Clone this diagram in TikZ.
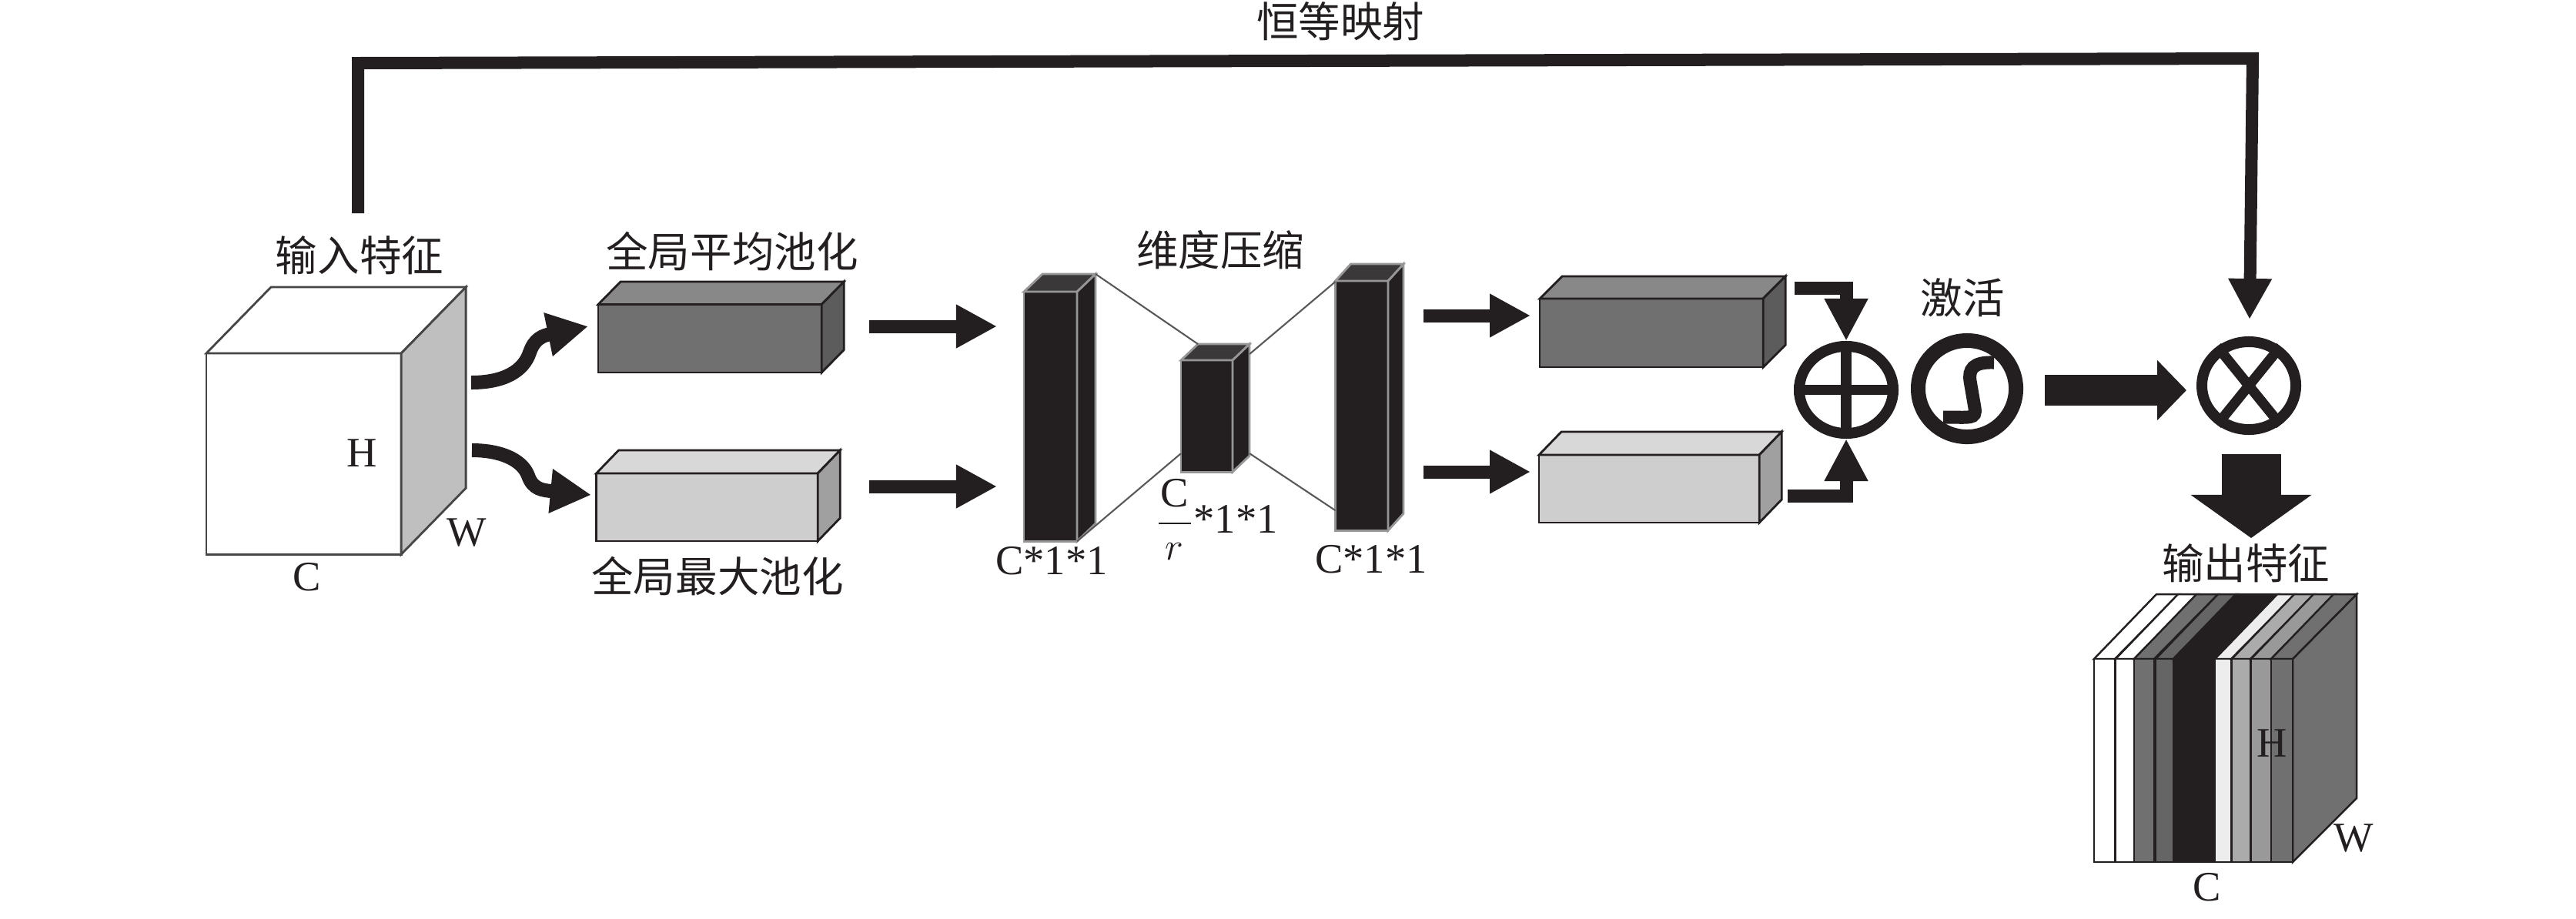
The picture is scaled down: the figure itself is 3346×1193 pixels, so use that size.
\documentclass[tikz,border=0pt]{standalone}
\usepackage{fontspec}
\setmainfont{Liberation Serif}
\newfontfamily\cjk{Noto Sans CJK SC}
\definecolor{Ink}      {RGB}{35,  31,  32}
\definecolor{InFront}  {RGB}{255, 255, 255}
\definecolor{InTop}    {RGB}{255, 255, 255}
\definecolor{InSide}   {RGB}{191, 191, 191}
\definecolor{InEdge}   {RGB}{70,  70,  70}
\definecolor{AvgFront} {RGB}{112, 112, 113}
\definecolor{AvgTop}   {RGB}{136, 136, 137}
\definecolor{AvgSide}  {RGB}{92,  92,  92}
\definecolor{AvgEdge}  {RGB}{35,  31,  32}
\definecolor{MaxFront} {RGB}{206, 206, 206}
\definecolor{MaxTop}   {RGB}{216, 216, 216}
\definecolor{MaxSide}  {RGB}{160, 160, 160}
\definecolor{MaxEdge}  {RGB}{35,  31,  32}
\definecolor{BarFront} {RGB}{35,  31,  32}
\definecolor{BarTop}   {RGB}{58,  56,  57}
\definecolor{BarSide}  {RGB}{35,  31,  32}
\definecolor{BarEdge}  {RGB}{150, 150, 150}
\usepackage{tikz}
\usetikzlibrary{shapes.geometric, arrows.meta, calc}

%% name, north west corner, width, height, depth vector, colour family
\newcommand{\cuboid}[6]{%
  \node[boxface, draw=#6Edge, fill=#6Front, minimum width=#3cm, minimum height=#4cm] (#1) at #2 {};
  \draw[boxedge, draw=#6Edge, fill=#6Top] (#1.north west) -- ++#5 -- ($(#1.north east)+#5$) -- (#1.north east) -- cycle;
  \draw[boxedge, draw=#6Edge, fill=#6Side] (#1.north east) -- ++#5 -- ($(#1.south east)+#5$) -- (#1.south east) -- cycle;
}

\begin{document}
\begin{tikzpicture}[x=0.01cm, y=-0.01cm,
  boxface/.style={rectangle, anchor=north west, line width=0.8pt, inner sep=0pt, outer sep=0pt},
  boxedge/.style={line width=0.8pt, line join=miter},
  lbl/.style={font=\fontsize{15.5}{18}\selectfont\cjk, text=Ink, inner sep=0pt},
  sym/.style={font=\fontsize{15.5}{18}\selectfont, text=Ink, inner sep=0pt},
  thinline/.style={draw=Ink!75, line width=0.6pt},
  wave/.style={draw=Ink, line width=0.18cm, -{Triangle[length=0.53cm, width=0.54cm, fill=Ink]}},
  flow/.style={draw=Ink, line width=0.17cm, -{Triangle[length=0.53cm, width=0.53cm, fill=Ink]}},
  merge/.style={draw=Ink, line width=0.17cm, -{Triangle[length=0.55cm, width=0.53cm, fill=Ink]}},
  skiparrow/.style={draw=Ink, line width=0.16cm, -{Triangle[length=0.53cm, width=0.53cm, fill=Ink]}},
  bigflow/.style={draw=Ink, line width=0.40cm, -{Triangle[length=0.38cm, width=0.76cm, fill=Ink]}},
  bigdown/.style={draw=Ink, line width=0.77cm, -{Triangle[length=0.56cm, width=1.54cm, fill=Ink]}},
  ring/.style={ellipse, draw=Ink, inner sep=0pt},
  stripe/.style={draw=Ink, line width=0.7pt}
]
  \useasboundingbox (0,0) rectangle (3346,1193);

  %% Input feature
  \cuboid{inCube}{(268,459)}{2.53}{2.61}{(84,-86)}{In}
  \node[lbl] (inLbl) at (467,332) {输入特征};
  \node[sym] (inH) at (470,589) {H};
  \node[sym] (inW) at (606,692) {W};
  \node[sym] (inC) at (399,750) {C};

  %% Pooling boxes
  \cuboid{avgA}{(777,395.5)}{2.90}{0.885}{(29,-29.5)}{Avg}
  \cuboid{maxA}{(774.5,615)}{2.875}{0.88}{(29,-30)}{Max}
  \node[lbl] (avgLbl) at (951,327) {全局平均池化};
  \node[lbl] (maxLbl) at (932,748) {全局最大池化};

  %% Curved arrows out of the input
  \coordinate (waveA) at (612,497);
  \coordinate (waveB) at (613,585);
  \coordinate (avgIn) at (764,424);
  \coordinate (maxIn) at (768,643);
  \draw[wave] (waveA) .. controls (655,497) and (680,482) .. (688,458)
    .. controls (694,440) and (705,436) .. (avgIn);
  \draw[wave] (waveB) .. controls (650,585) and (678,597) .. (686,618)
    .. controls (692,636) and (705,637) .. (maxIn);

  %% Squeeze bars
  \cuboid{barA}{(1330,379)}{0.69}{3.24}{(24,-23)}{Bar}
  \cuboid{barM}{(1534,468)}{0.67}{1.45}{(22,-21)}{Bar}
  \cuboid{barC}{(1734.5,365)}{0.685}{3.24}{(20,-22)}{Bar}
  \node[lbl] (dimLbl) at (1585,325) {维度压缩};
  \node[sym] (barALbl) at (1366,729) {C*1*1};
  \node[sym] (barMLbl) at (1580,675) {$\displaystyle\frac{\mkern1mu\mathrm{C}\mkern1mu}{r}$*1*1};
  \node[sym] (barCLbl) at (1781,727) {C*1*1};

  %% Thin lines between the bars
  \draw[thinline] ($(barA.north east)+(24,-23)$) -- ($(barM.north west)+(22,-21)$);
  \draw[thinline] (barA.south east) -- ($(barM.south west)+(0,-24)$);
  \draw[thinline] ($(barM.north east)+(22,-8)$) -- ($(barC.north west)+(0,1)$);
  \draw[thinline] ($(barM.south east)+(22,-24)$) -- ($(barC.south west)+(0,-26)$);

  %% Pool to bar arrows
  \coordinate (avgOut) at (1129,424);
  \coordinate (maxOut) at (1129,632);
  \coordinate (barAin) at (1295,424);
  \coordinate (barBin) at (1295,632);
  \draw[flow] (avgOut) -- (barAin);
  \draw[flow] (maxOut) -- (barBin);

  %% Second pair of boxes
  \cuboid{avgB}{(2000,388)}{2.90}{0.89}{(29,-29)}{Avg}
  \cuboid{maxB}{(1999,591)}{2.86}{0.88}{(29,-30)}{Max}
  \coordinate (barCa) at (1849,410);
  \coordinate (barCb) at (1849,613);
  \coordinate (avgBin) at (1988,410);
  \coordinate (maxBin) at (1988,613);
  \draw[flow] (barCa) -- (avgBin);
  \draw[flow] (barCb) -- (maxBin);

  %% Sum, activation, product
  \node[ring, line width=0.14cm, minimum width=1.22cm, minimum height=1.13cm] (add) at (2398,506.5) {};
  \draw[draw=Ink, line width=0.14cm] (add.north) -- (add.south);
  \draw[draw=Ink, line width=0.13cm] (add.west) -- (add.east);
  \node[ring, line width=0.19cm, minimum width=1.27cm, minimum height=1.25cm] (sig) at (2555,505) {};
  \draw[draw=Ink, line width=0.17cm] (2590,471) .. controls (2562,470) and (2557,480) .. (2559,495)
    -- (2565,530) .. controls (2567,545) and (2560,542) .. (2524,542);
  \node[lbl] (sigLbl) at (2549,387) {激活};
  \node[ring, line width=0.14cm, minimum width=1.22cm, minimum height=1.14cm] (mul) at (2921,501) {};
  \draw[draw=Ink, line width=0.13cm] (mul.129) -- (mul.-51);
  \draw[draw=Ink, line width=0.13cm] (mul.51) -- (mul.-129);

  %% Arrows into the sum
  \coordinate (avgBout) at (2331,374);
  \coordinate (maxBout) at (2322,644.5);
  \draw[merge] (avgBout) -| (add.north);
  \draw[merge] (maxBout) -| (add.south);

  %% Activation to product, product to output
  \coordinate (sigOut) at (2656,507);
  \coordinate (mulIn) at (2840,507);
  \draw[bigflow] (sigOut) -- (mulIn);
  \coordinate (mulOut) at (2924,590);
  \coordinate (outTip) at (2924,699);
  \draw[bigdown] (mulOut) -- (outTip);

  %% Identity path
  \node[lbl] (skipLbl) at (1741,28) {恒等映射};
  \coordinate (skipS) at (465,277);
  \coordinate (skipL) at (465,82);
  \coordinate (skipR) at (2926,76);
  \coordinate (skipE) at (2922,415);
  \draw[skiparrow] (skipS) -- (skipL) -- (skipR) -- (skipE);

  %% Output feature
  \node[lbl] (outLbl) at (2917,732) {输出特征};
  \fill[fill=AvgFront, draw=Ink, line width=0.7pt] (2978,856) -- (3061,772) -- (3061,1037) -- (2978,1120) -- cycle;
  \foreach \xa/\xb/\col in {2720/2747/white, 2748/2772/white, 2772/2798/AvgFront, 2800/2823/AvgFront!90!black,
                            2823/2877/Ink, 2877/2898/black!7, 2899/2923/black!33, 2924/2950/black!40, 2950/2978/AvgFront} {
    \draw[stripe, fill=\col] (\xa,856) -- (\xa+81,772) -- (\xb+83,772) -- (\xb,856) -- cycle;
    \draw[stripe, fill=\col] (\xa,856) rectangle (\xb,1120);
  }
  \node[sym] (outH) at (2951,966) {H};
  \node[sym] (outW) at (3057,1089) {W};
  \node[sym] (outC) at (2867,1153) {C};
\end{tikzpicture}
\end{document}
